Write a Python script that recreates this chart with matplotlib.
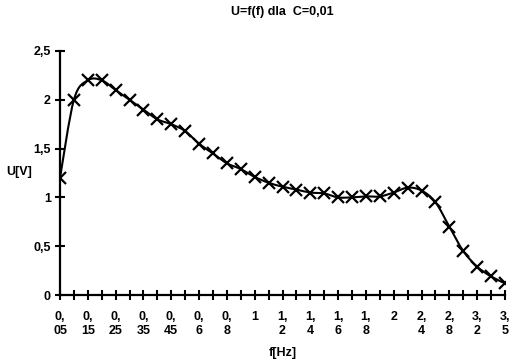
import matplotlib
matplotlib.use("Agg")
import matplotlib.pyplot as plt
import numpy as np
from matplotlib.path import Path
from matplotlib.patches import PathPatch

freqs = ["0,05", "0,1", "0,15", "0,2", "0,25", "0,3", "0,35", "0,4", "0,45", "0,5",
         "0,6", "0,7", "0,8", "0,9", "1", "1,1", "1,2", "1,3", "1,4", "1,5",
         "1,6", "1,7", "1,8", "1,9", "2", "2,2", "2,4", "2,6", "2,8", "3",
         "3,2", "3,4", "3,5"]
u_vals = [1.2, 2.0, 2.2, 2.2, 2.1, 2.0, 1.9, 1.8, 1.75, 1.68,
          1.55, 1.45, 1.35, 1.29, 1.21, 1.15, 1.11, 1.08, 1.05, 1.04,
          1.0, 1.0, 1.01, 1.01, 1.05, 1.1, 1.07, 0.95, 0.7, 0.45,
          0.29, 0.19, 0.12]
y_ticks = [0, 0.5, 1, 1.5, 2, 2.5]
y_tick_labels = ["0", "0,5", "1", "1,5", "2", "2,5"]

plt.rcParams['font.family'] = ['Liberation Sans', 'DejaVu Sans']
plt.rcParams['font.weight'] = 'bold'

W, H = 511, 362
fig = plt.figure(figsize=(W / 100, H / 100), dpi=100)
ax = fig.add_axes([60 / W, 1 - 295 / H, 445 / W, 244 / H])

x = np.arange(len(u_vals))
y = np.array(u_vals, dtype=float)

# smoothed line (Catmull-Rom -> cubic Bezier), like a spreadsheet smooth line
verts = [(x[0], y[0])]
codes = [Path.MOVETO]
n = len(x)
for i in range(n - 1):
    p0 = np.array([x[max(i - 1, 0)], y[max(i - 1, 0)]])
    p1 = np.array([x[i], y[i]])
    p2 = np.array([x[i + 1], y[i + 1]])
    p3 = np.array([x[min(i + 2, n - 1)], y[min(i + 2, n - 1)]])
    c1 = p1 + (p2 - p0) / 6.0
    c2 = p2 - (p3 - p1) / 6.0
    verts += [tuple(c1), tuple(c2), tuple(p2)]
    codes += [Path.CURVE4, Path.CURVE4, Path.CURVE4]
ax.add_patch(PathPatch(Path(verts, codes), facecolor='none', edgecolor='black',
                       linewidth=1.5, zorder=2))
ax.plot(x, y, linestyle='none', marker='x', markersize=8, markeredgewidth=1.6,
        color='black', zorder=3)

ax.set_xlim(0, n - 1)
ax.set_ylim(0, 2.5)
ax.set_yticks(y_ticks)
ax.set_yticklabels(y_tick_labels)
ax.set_xticks(x)
xl = []
for i, f in enumerate(freqs):
    if i % 2 == 0:
        xl.append(f.replace(",", ",\n") if "," in f else f)
    else:
        xl.append("")
ax.set_xticklabels(xl, va='top', linespacing=1.2)

for s in ['top', 'right']:
    ax.spines[s].set_visible(False)
for s in ['left', 'bottom']:
    ax.spines[s].set_linewidth(1.6)
ax.tick_params(axis='both', direction='inout', length=7, width=1.5,
               labelsize=9, colors='black')
ax.tick_params(axis='x', pad=8)
ax.tick_params(axis='y', pad=3)
for lab in ax.get_xticklabels() + ax.get_yticklabels():
    lab.set_fontweight('bold')

fig.text(282 / W, 1 - 12 / H, "U=f(f) dla  C=0,01", ha='center', va='center',
         fontsize=9, fontweight='bold')
fig.text(283 / W, 1 - 353 / H, "f[Hz]", ha='center', va='center',
         fontsize=9, fontweight='bold')
fig.text(19 / W, 1 - 172 / H, "U[V]", ha='center', va='center',
         fontsize=9, fontweight='bold')

fig.savefig("out.png", dpi=100)
